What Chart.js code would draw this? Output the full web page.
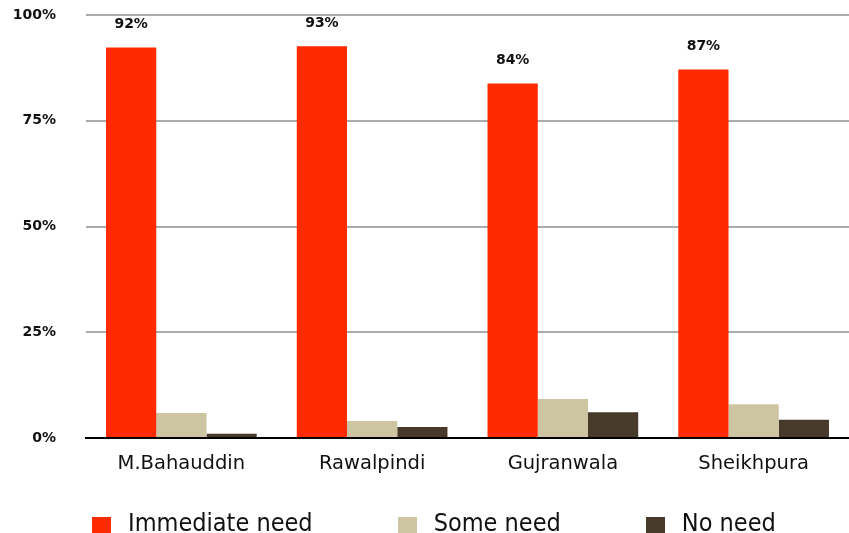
<!DOCTYPE html>
<html>
<head>
<meta charset="utf-8">
<script src="https://cdn.jsdelivr.net/npm/chart.js@4.4.1/dist/chart.umd.min.js"></script>
<style>
  html, body { margin: 0; padding: 0; background: #fff; }
  #wrap { position: relative; width: 849px; height: 533px; overflow: hidden; }
  #legend {
    position: absolute; left: 92px; top: 510px;
    display: flex; align-items: center; column-gap: 85px;
    font-family: "DejaVu Sans Condensed", "DejaVu Sans", sans-serif;
    font-stretch: condensed; font-size: 25px; line-height: 25px; color: #111;
  }
  .item { display: flex; align-items: center; }
  .box { width: 19px; height: 18px; margin-right: 17px; position: relative; top: 3px; }
</style>
</head>
<body>
<div id="wrap">
  <canvas id="chart" width="849" height="533"></canvas>
  <div id="legend"></div>
</div>
<script>
// data
const districts = ['M.Bahauddin', 'Rawalpindi', 'Gujranwala', 'Sheikhpura'];
const immediateNeed = [92.3, 92.6, 83.8, 87.1];
const someNeed = [5.9, 4.0, 9.2, 8.0];
const noNeed = [1.0, 2.6, 6.1, 4.3];
const yTicks = [0, 25, 50, 75, 100];

const seriesNames = ['Immediate need', 'Some need', 'No need'];
const seriesColors = ['#ff2a00', '#cdc4a2', '#483a2b'];
const seriesData = [immediateNeed, someNeed, noNeed];

// percent labels over the red bars
const valueLabels = {
  id: 'valueLabels',
  afterDatasetsDraw(chart) {
    const ctx = chart.ctx;
    const meta = chart.getDatasetMeta(0);
    ctx.save();
    ctx.font = 'bold 14px "DejaVu Sans"';
    ctx.fillStyle = '#111';
    ctx.textAlign = 'center';
    ctx.textBaseline = 'middle';
    meta.data.forEach((bar, i) => {
      ctx.fillText(Math.round(immediateNeed[i]) + '%', bar.x, bar.y - 23);
    });
    ctx.restore();
  }
};

const chart = new Chart(document.getElementById('chart'), {
  type: 'bar',
  data: {
    labels: districts,
    datasets: seriesNames.map((name, i) => ({
      label: name,
      data: seriesData[i],
      backgroundColor: seriesColors[i],
      borderWidth: 0,
      barPercentage: 1,
      categoryPercentage: 0.79,
    })),
  },
  options: {
    responsive: false,
    animation: false,
    layout: { padding: 0 },
    plugins: {
      legend: { display: false },
      tooltip: { enabled: false },
    },
    scales: {
      x: {
        grid: { display: false },
        border: { display: true, color: '#000', width: 2 },
        ticks: {
          color: '#111',
          padding: 6,
          font: { family: '"DejaVu Sans"', size: 19.5 },
        },
        afterFit: (scale) => { scale.height = 95; },
      },
      y: {
        min: 0,
        max: 100,
        border: { display: false },
        grid: {
          drawTicks: false,
          lineWidth: 2,
          color: (c) => (c.tick && c.tick.value === 0 ? '#000' : '#ababab'),
        },
        afterBuildTicks: (scale) => { scale.ticks = yTicks.map((v) => ({ value: v })); },
        ticks: {
          color: '#111',
          padding: 30,
          font: { family: '"DejaVu Sans"', size: 14, weight: 'bold' },
          callback: (v) => v + '%',
        },
        afterFit: (scale) => {
          scale.width = 86;
          scale.paddingTop = 15;
          scale.paddingBottom = 0;
        },
      },
    },
  },
  plugins: [valueLabels],
});

// html legend built from the datasets
const legend = document.getElementById('legend');
chart.data.datasets.forEach((ds) => {
  const item = document.createElement('div');
  item.className = 'item';
  const box = document.createElement('span');
  box.className = 'box';
  box.style.background = ds.backgroundColor;
  const label = document.createElement('span');
  label.textContent = ds.label;
  item.appendChild(box);
  item.appendChild(label);
  legend.appendChild(item);
});
</script>
</body>
</html>
